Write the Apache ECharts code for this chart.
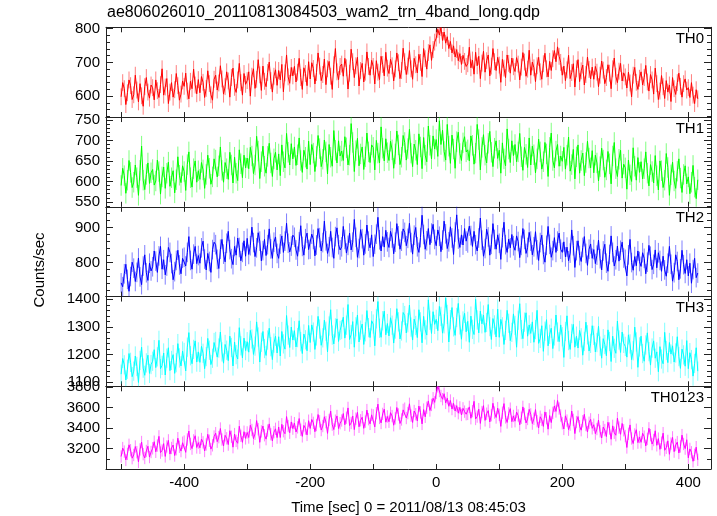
<!DOCTYPE html>
<html>
<head>
<meta charset="utf-8">
<script src="https://cdn.jsdelivr.net/npm/echarts@6/dist/echarts.min.js"></script>
<style>
html,body{margin:0;padding:0;background:#fff;}
#chart{width:717px;height:516px;}
</style>
</head>
<body>
<div id="chart"></div>
<script>
// ---- data (2.5 s bins, bin times from tStart) ----
const tStart = -500;
const binSize = 2.5;
const bandNames = ["TH0", "TH1", "TH2", "TH3", "TH0123"];
const bandColors = ["#ff0000", "#00ff00", "#0000ff", "#00ffff", "#ff00ff"];
const errColors = ["rgba(255,0,0,0.5)", "rgba(0,255,0,0.5)", "rgba(0,0,255,0.5)", "rgba(0,255,255,0.5)", "rgba(255,0,255,0.5)"];
const errHalf = [25, 25, 28, 35, 60];

const th0 = [
598,640,622,575,610,648,631,590,604,662,618,583,637,601,570,628,655,612,594,633,
625,589,648,616,596,634,681,603,627,652,578,612,640,597,619,667,631,588,606,645,
629,668,615,592,644,622,680,633,607,649,610,658,641,596,623,675,637,604,588,650,
662,618,639,690,651,606,628,672,645,597,655,683,626,611,648,697,640,603,667,635,
646,672,600,659,681,623,650,708,663,617,689,644,628,670,701,646,612,659,678,632,
676,648,694,613,669,722,657,638,685,660,688,642,671,712,655,620,684,667,631,702,
651,699,682,636,670,728,689,646,664,710,634,681,703,659,620,693,741,672,649,688,
695,659,712,684,621,668,739,702,655,690,715,630,676,697,642,671,731,688,662,706,
688,636,705,671,649,718,694,660,730,683,667,709,690,645,681,728,699,652,676,742,
702,664,689,735,681,650,712,693,669,724,700,658,741,711,680,729,752,706,738,760,
772,798,781,803,765,790,757,776,741,762,728,749,716,738,705,726,694,721,703,688,
696,745,684,707,665,730,690,718,652,698,733,671,705,722,660,689,741,702,676,715,
692,641,709,683,655,722,697,668,713,687,673,714,695,648,686,729,701,659,680,736,
662,701,684,643,690,715,672,650,696,727,681,657,703,676,711,735,702,746,718,700,
662,689,646,678,721,652,670,696,627,681,708,643,675,692,633,664,716,679,651,686,
650,688,671,628,662,704,677,637,655,693,668,622,681,713,659,640,674,697,645,669,
657,624,671,639,598,662,685,641,620,653,672,633,655,691,642,615,664,648,606,683,
637,590,615,661,628,593,646,612,633,584,655,622,605,640,668,629,597,637,651,618,
625,596,640,603,578,619,592];

const th1 = [
590,632,614,571,603,651,622,585,598,640,609,566,627,686,603,580,617,645,595,621,
629,591,601,652,624,569,611,635,583,620,647,588,609,626,572,604,660,615,597,638,
624,578,641,672,609,586,631,650,598,626,605,646,628,583,617,664,632,593,611,655,
652,611,638,684,627,598,646,631,605,671,640,596,659,620,602,677,643,609,664,633,
657,631,683,662,619,640,710,674,607,648,686,637,620,661,693,645,612,655,671,628,
667,614,689,648,633,717,671,640,692,655,684,639,665,706,651,622,676,659,630,698,
641,690,669,624,661,712,680,636,654,701,672,618,690,659,637,724,676,645,699,662,
674,651,709,682,640,664,741,695,624,675,705,638,667,684,629,660,718,672,646,689,
683,628,700,669,645,733,681,650,704,670,651,698,677,632,667,723,689,641,659,712,
695,652,680,727,669,636,691,676,641,716,684,631,707,664,648,735,688,655,711,679,
702,661,748,690,725,673,652,739,686,644,713,679,632,697,720,668,651,694,709,672,
677,650,711,688,642,669,739,702,628,683,714,664,645,693,722,671,636,681,699,656,
676,620,694,655,638,728,679,646,699,663,690,648,672,717,660,627,683,666,634,706,
640,686,665,621,655,703,672,630,648,695,667,612,683,718,651,633,674,690,637,662,
649,683,630,664,708,625,641,678,606,660,689,620,651,669,614,646,698,657,633,675,
621,664,645,601,636,681,652,610,628,673,643,594,662,695,631,612,654,676,608,642,
633,581,652,616,600,682,637,603,658,622,648,606,631,672,620,589,641,624,596,663,
614,579,650,626,585,603,668,634,566,616,647,601,583,625,655,608,573,617,638,594,
611,570,598,639,586,558,604];

const th2 = [
742,731,768,795,752,718,760,801,784,746,772,813,759,737,790,822,771,749,798,776,
788,833,804,772,819,846,781,808,765,790,843,829,797,751,774,806,835,793,768,812,
815,790,829,874,806,781,824,846,797,820,798,842,861,810,779,826,803,772,837,858,
851,809,783,838,866,824,802,855,889,837,811,794,846,821,870,843,805,829,862,818,
869,823,848,901,857,817,842,885,861,805,834,866,820,851,896,839,812,858,873,826,
812,853,876,829,861,912,855,830,847,878,872,836,818,859,905,846,821,868,884,837,
838,881,866,819,850,897,871,833,857,918,862,826,845,889,843,812,874,899,851,836,
845,903,866,827,849,884,836,858,923,872,815,840,894,868,821,853,907,861,842,879,
817,852,881,929,865,833,874,844,892,859,843,889,870,825,858,911,876,838,861,896,
886,848,869,912,857,824,878,900,845,829,871,935,880,838,862,897,851,884,909,866,
848,893,875,831,864,918,882,840,859,902,870,823,887,936,867,843,879,850,897,861,
856,904,877,846,889,851,833,870,927,864,818,840,895,873,821,852,911,866,838,879,
855,809,871,915,851,829,867,842,880,848,835,876,860,814,849,897,866,826,843,886,
861,822,845,888,836,806,857,878,823,801,849,903,852,815,834,871,829,861,884,838,
829,859,816,844,805,827,893,848,786,834,862,820,803,843,874,826,792,838,853,812,
837,797,821,864,811,779,833,852,798,775,823,876,829,790,808,847,804,835,858,813,
809,762,822,866,800,778,817,791,833,803,789,828,812,768,801,849,818,780,795,836,
785,828,806,775,818,779,761,798,846,795,747,771,822,803,751,782,835,794,769,808,
762,798,741,780,812,757,770];

const th3 = [
1128,1185,1162,1107,1146,1203,1171,1119,1139,1194,1156,1098,1178,1226,1150,1124,1169,1197,1131,1163,
1175,1217,1152,1191,1251,1148,1160,1205,1125,1186,1224,1141,1178,1199,1131,1170,1239,1187,1158,1212,
1207,1140,1226,1279,1195,1166,1218,1249,1172,1209,1171,1229,1204,1148,1192,1258,1215,1163,1186,1243,
1247,1190,1223,1281,1209,1168,1236,1215,1177,1266,1225,1158,1245,1199,1183,1297,1231,1187,1259,1214,
1246,1208,1287,1256,1200,1230,1318,1263,1172,1244,1283,1221,1196,1252,1295,1228,1181,1241,1266,1205,
1264,1194,1283,1238,1219,1341,1270,1225,1299,1252,1286,1227,1261,1322,1246,1203,1274,1253,1213,1305,
1243,1307,1281,1218,1267,1338,1292,1233,1260,1324,1284,1209,1303,1362,1270,1238,1296,1329,1247,1287,
1290,1335,1259,1306,1381,1254,1272,1319,1226,1300,1343,1245,1288,1310,1236,1282,1359,1297,1261,1322,
1310,1231,1329,1392,1295,1262,1322,1357,1271,1312,1267,1333,1306,1241,1292,1366,1318,1256,1285,1352,
1341,1278,1315,1379,1299,1252,1328,1305,1261,1362,1318,1242,1338,1289,1270,1398,1324,1276,1355,1309,
1327,1286,1374,1338,1277,1311,1405,1345,1245,1326,1370,1300,1269,1334,1385,1307,1255,1321,1349,1282,
1320,1244,1339,1291,1272,1400,1325,1278,1357,1311,1343,1280,1316,1381,1301,1254,1330,1307,1263,1364,
1262,1327,1300,1236,1287,1360,1313,1250,1280,1347,1305,1226,1324,1384,1290,1257,1317,1351,1266,1307,
1276,1318,1244,1290,1360,1240,1258,1304,1211,1284,1326,1231,1273,1295,1221,1267,1343,1281,1246,1307,
1264,1189,1283,1340,1250,1218,1276,1309,1226,1266,1223,1287,1260,1197,1247,1317,1271,1212,1240,1304,
1269,1209,1243,1302,1230,1186,1257,1236,1195,1289,1247,1174,1266,1222,1204,1321,1252,1207,1281,1240,
1229,1190,1271,1238,1181,1213,1299,1245,1153,1227,1266,1203,1175,1234,1278,1210,1161,1223,1249,1186,
1209,1137,1228,1183,1166,1280,1214,1170,1243,1201,1231,1172,1205,1264,1192,1149,1219,1198,1157,1250,
1148,1206,1181,1121,1167,1224,1139];

const th0123 = [
3124,3206,3172,3091,3150,3238,3185,3108,3139,3221,3166,3072,3193,3265,3147,3110,3178,3224,3119,3168,
3204,3268,3170,3231,3320,3162,3183,3249,3125,3222,3281,3148,3207,3236,3134,3195,3302,3219,3177,3258,
3269,3165,3290,3372,3246,3201,3281,3326,3212,3259,3209,3294,3262,3178,3241,3340,3277,3196,3233,3318,
3351,3268,3312,3396,3289,3227,3330,3301,3240,3375,3316,3215,3342,3276,3253,3418,3325,3262,3365,3300,
3358,3309,3428,3382,3298,3345,3473,3389,3262,3368,3420,3331,3293,3376,3441,3340,3276,3361,3393,3308,
3411,3309,3437,3370,3346,3512,3420,3355,3460,3395,3448,3362,3407,3493,3384,3320,3426,3396,3334,3472,
3397,3484,3451,3365,3430,3532,3466,3381,3420,3510,3458,3349,3479,3565,3434,3386,3472,3518,3396,3448,
3474,3541,3433,3501,3596,3425,3450,3518,3386,3492,3553,3413,3476,3506,3398,3463,3575,3487,3441,3529,
3524,3412,3545,3633,3499,3450,3538,3584,3458,3513,3462,3550,3517,3428,3495,3600,3532,3445,3484,3577,
3589,3498,3546,3636,3521,3455,3566,3535,3470,3614,3552,3441,3580,3510,3598,3664,3571,3625,3690,3650,
3742,3805,3760,3712,3681,3734,3645,3690,3612,3668,3585,3640,3566,3618,3545,3601,3528,3592,3560,3535,
3538,3606,3496,3565,3660,3489,3512,3584,3446,3556,3618,3475,3540,3570,3460,3526,3641,3551,3503,3594,
3529,3417,3550,3638,3504,3455,3543,3589,3463,3518,3467,3556,3522,3432,3500,3606,3537,3450,3489,3582,
3533,3444,3491,3580,3467,3402,3510,3480,3417,3557,3496,3390,3522,3454,3548,3615,3562,3668,3590,3522,
3447,3392,3519,3473,3385,3434,3566,3480,3347,3459,3512,3419,3380,3467,3534,3430,3362,3452,3485,3398,
3433,3346,3391,3478,3368,3304,3410,3381,3318,3457,3396,3292,3422,3355,3331,3497,3405,3340,3445,3379,
3323,3212,3345,3431,3299,3250,3338,3384,3259,3313,3262,3350,3317,3227,3295,3398,3331,3245,3284,3374,
3233,3298,3194,3259,3351,3185,3209,3276,3146,3250,3310,3172,3236,3264,3158,3222,3332,3246,3201,3287,
3112,3198,3165,3078,3141,3215,3092];

const bandValues = [th0, th1, th2, th3, th0123];

// axis ranges and ticks
const xRange = [-524, 436];
const xTicks = [-500, -400, -300, -200, -100, 0, 100, 200, 300, 400];
const xLabels = [-400, -200, 0, 200, 400];
const yRanges = [[538, 804], [538, 757], [703, 959], [1084, 1410], [3003, 3806]];
const yMajor = [
  [600, 700, 800],
  [550, 600, 650, 700, 750],
  [800, 900],
  [1100, 1200, 1300, 1400],
  [3200, 3400, 3600, 3800]
];
const yMinor = [
  [540, 560, 580, 620, 640, 660, 680, 720, 740, 760, 780],
  [540, 560, 570, 580, 590, 610, 620, 630, 640, 660, 670, 680, 690, 710, 720, 730, 740],
  [720, 740, 760, 780, 820, 840, 860, 880, 920, 940],
  [1120, 1140, 1160, 1180, 1220, 1240, 1260, 1280, 1320, 1340, 1360, 1380],
  [3100, 3300, 3500, 3700]
];

const titleText = "ae806026010_20110813084503_wam2_trn_4band_long.qdp";
const xName = "Time [sec] 0 = 2011/08/13 08:45:03";
const yName = "Counts/sec";

// ---- build chart ----
const FONT = "Liberation Sans, Arial, Helvetica, sans-serif";
const AX = "#222";
const gLeft = 106, gRight = 6, gTop = 27.3, gH = 89.75;
const plain = v => String(v);

const grids = [], xAxes = [], yAxes = [], series = [], graphics = [];
for (let i = 0; i < 5; i++) {
  grids.push({left: gLeft, right: gRight, top: gTop + i * gH, height: gH, containLabel: false});
  const isBottom = (i === 4);
  xAxes.push({
    type: 'value', gridIndex: i, position: 'bottom', min: xRange[0], max: xRange[1],
    axisLine: {show: true, onZero: false, lineStyle: {color: AX, width: 1}},
    axisTick: {show: true, inside: true, length: 5, customValues: xTicks, lineStyle: {color: AX}},
    axisLabel: {show: isBottom, customValues: xLabels, formatter: plain, margin: 6, color: '#000', fontSize: 15, fontFamily: FONT},
    splitLine: {show: false},
    name: isBottom ? xName : '', nameLocation: 'middle', nameGap: 31,
    nameTextStyle: {color: '#000', fontSize: 15, fontFamily: FONT}
  });
  xAxes.push({
    type: 'value', gridIndex: i, position: 'top', min: xRange[0], max: xRange[1],
    axisLine: {show: true, onZero: false, lineStyle: {color: AX, width: 1}},
    axisTick: {show: true, inside: true, length: 5, customValues: xTicks, lineStyle: {color: AX}},
    axisLabel: {show: false}, splitLine: {show: false}
  });
  const [ymin, ymax] = yRanges[i];
  const mk = (pos, major, label) => ({
    type: 'value', gridIndex: i, position: pos, min: ymin, max: ymax,
    axisLine: {show: major, onZero: false, lineStyle: {color: AX, width: 1}},
    axisTick: {show: true, inside: true, length: major ? 7 : 4, customValues: major ? yMajor[i] : yMinor[i], lineStyle: {color: AX}},
    axisLabel: {show: label, customValues: yMajor[i], formatter: plain, margin: 6, color: '#000', fontSize: 15, fontFamily: FONT},
    splitLine: {show: false}
  });
  yAxes.push(mk('left', true, true));
  yAxes.push(mk('left', false, false));
  yAxes.push(mk('right', true, false));
  yAxes.push(mk('right', false, false));

  const pts = bandValues[i].map((v, k) => [tStart + k * binSize, v]);
  const eh = errHalf[i];
  series.push({
    type: 'custom', xAxisIndex: 2 * i, yAxisIndex: 4 * i, clip: true, z: 1,
    itemStyle: {color: errColors[i]},
    renderItem: function (params, api) {
      const x = api.value(0), y = api.value(1);
      const p1 = api.coord([x, y - eh]), p2 = api.coord([x, y + eh]);
      return {type: 'line', shape: {x1: p1[0], y1: p1[1], x2: p2[0], y2: p2[1]},
              style: {stroke: api.visual('color'), lineWidth: 1}};
    },
    data: pts, silent: true
  });
  series.push({
    type: 'line', xAxisIndex: 2 * i, yAxisIndex: 4 * i, data: pts, symbol: 'none',
    clip: true, z: 2, lineStyle: {color: bandColors[i], width: 1}, itemStyle: {color: bandColors[i]}, silent: true
  });
  graphics.push({
    type: 'text', right: 13, top: gTop + i * gH + 4,
    style: {text: bandNames[i], fill: '#000', font: '15px ' + FONT}
  });
}
graphics.push({
  type: 'text', left: 107, top: 5,
  style: {text: titleText, fill: '#000', font: '16px ' + FONT}
});
graphics.push({
  type: 'text', x: 40, y: 270, rotation: Math.PI / 2,
  style: {text: yName, fill: '#000', font: '15px ' + FONT, align: 'center', verticalAlign: 'middle'}
});

const chart = echarts.init(document.getElementById('chart'), null, {renderer: 'canvas'});
chart.setOption({
  animation: false,
  backgroundColor: '#fff',
  grid: grids, xAxis: xAxes, yAxis: yAxes, series: series, graphic: graphics
});
</script>
</body>
</html>
